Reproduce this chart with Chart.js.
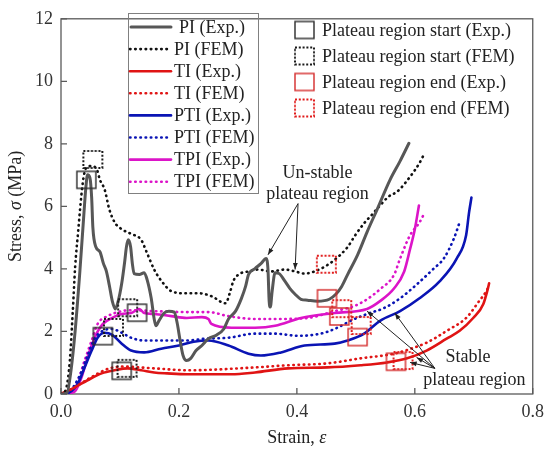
<!DOCTYPE html>
<html>
<head>
<meta charset="utf-8">
<script src="https://cdn.jsdelivr.net/npm/chart.js@4/dist/chart.umd.min.js"></script>
<style>
  html, body { margin: 0; padding: 0; background: #fff; }
  canvas { display: block; }
</style>
</head>
<body>
<canvas id="canvas" width="551" height="455"></canvas>
<script>
// curves as [strain, stress (MPa)]
const piExp = [[0,0],[0.010,0.03],[0.017,0.76],[0.024,2.02],[0.032,3.92],[0.039,5.81],[0.042,6.57],[0.045,7.01],[0.049,6.92],[0.052,6.28],[0.054,5.34],[0.059,4.71],[0.066,4.55],[0.072,4.17],[0.077,3.92],[0.082,3.47],[0.087,2.97],[0.092,2.72],[0.097,2.97],[0.103,3.54],[0.108,4.23],[0.111,4.71],[0.114,4.93],[0.118,4.71],[0.121,4.17],[0.124,3.85],[0.133,3.82],[0.141,3.88],[0.146,3.66],[0.153,3.06],[0.158,2.40],[0.161,2.18],[0.166,2.34],[0.175,2.59],[0.183,2.65],[0.192,2.62],[0.197,2.27],[0.202,1.71],[0.207,1.23],[0.213,1.07],[0.220,1.14],[0.229,1.39],[0.239,1.55],[0.250,1.77],[0.264,1.89],[0.276,2.08],[0.284,2.40],[0.296,2.65],[0.306,3.06],[0.313,3.44],[0.318,3.82],[0.329,4.01],[0.339,4.17],[0.348,4.33],[0.351,3.98],[0.353,2.97],[0.355,2.78],[0.358,3.28],[0.363,3.88],[0.370,3.85],[0.380,3.60],[0.388,3.38],[0.397,3.19],[0.407,3.03],[0.418,3.00],[0.435,2.97],[0.455,3.03],[0.466,3.19],[0.476,3.44],[0.486,3.82],[0.503,4.45],[0.519,5.18],[0.536,5.90],[0.558,6.85],[0.575,7.45],[0.590,8.02]];
const piFem = [[0,0],[0.008,0.13],[0.015,1.07],[0.020,2.65],[0.024,4.07],[0.029,5.18],[0.035,6.44],[0.039,7.01],[0.044,7.26],[0.052,7.29],[0.061,7.17],[0.066,6.85],[0.074,6.54],[0.082,5.90],[0.091,5.49],[0.103,5.27],[0.119,5.12],[0.136,4.93],[0.145,4.55],[0.158,3.98],[0.171,3.60],[0.188,3.28],[0.212,3.22],[0.234,3.22],[0.255,3.13],[0.279,2.90],[0.287,3.28],[0.292,3.60],[0.301,3.82],[0.318,3.92],[0.334,3.98],[0.356,3.92],[0.380,3.98],[0.397,3.92],[0.413,3.85],[0.430,3.92],[0.447,4.07],[0.464,4.29],[0.486,4.70],[0.499,5.08],[0.514,5.46],[0.528,5.75],[0.541,6.03],[0.556,6.32],[0.570,6.47],[0.592,6.95],[0.608,7.39],[0.615,7.64]];
const tiExp = [[0,0],[0.024,0.22],[0.045,0.44],[0.069,0.66],[0.091,0.76],[0.113,0.82],[0.136,0.76],[0.158,0.69],[0.180,0.66],[0.213,0.63],[0.289,0.63],[0.329,0.69],[0.385,0.82],[0.452,0.85],[0.508,0.92],[0.553,1.01],[0.587,1.14],[0.620,1.39],[0.654,1.77],[0.676,2.02],[0.699,2.43],[0.716,2.87],[0.724,3.38],[0.726,3.54]];
const tiFem = [[0,0],[0.015,0.13],[0.032,0.32],[0.049,0.51],[0.066,0.69],[0.082,0.82],[0.108,0.88],[0.133,0.85],[0.158,0.82],[0.217,0.76],[0.329,0.85],[0.385,0.92],[0.452,0.98],[0.508,1.14],[0.565,1.29],[0.598,1.48],[0.620,1.64],[0.654,2.02],[0.687,2.43],[0.709,2.97],[0.721,3.28],[0.726,3.47]];
const ptiExp = [[0,0],[0.012,0.03],[0.029,0.35],[0.040,0.85],[0.052,1.39],[0.062,1.80],[0.074,1.96],[0.087,1.89],[0.103,1.61],[0.119,1.39],[0.141,1.33],[0.170,1.45],[0.200,1.55],[0.225,1.67],[0.250,1.71],[0.284,1.55],[0.318,1.29],[0.339,1.23],[0.373,1.33],[0.413,1.55],[0.464,1.61],[0.486,1.71],[0.514,1.93],[0.541,2.34],[0.575,2.65],[0.608,3.06],[0.642,3.60],[0.671,4.33],[0.687,5.08],[0.692,5.81],[0.696,6.28]];
const ptiFem = [[0,0],[0.015,0.09],[0.032,0.60],[0.045,1.23],[0.057,1.77],[0.071,2.02],[0.086,2.08],[0.103,1.96],[0.119,1.80],[0.141,1.71],[0.175,1.71],[0.213,1.71],[0.245,1.77],[0.284,1.80],[0.329,1.93],[0.363,1.93],[0.402,1.86],[0.440,1.93],[0.464,2.08],[0.491,2.34],[0.519,2.56],[0.548,2.75],[0.575,3.06],[0.603,3.50],[0.632,4.01],[0.649,4.33],[0.666,4.96],[0.676,5.49]];
const tpiExp = [[0,0],[0.015,0.03],[0.024,0.09],[0.035,0.54],[0.045,1.17],[0.057,1.80],[0.071,2.24],[0.086,2.43],[0.103,2.56],[0.119,2.59],[0.133,2.72],[0.141,2.59],[0.158,2.56],[0.187,2.49],[0.213,2.43],[0.239,2.46],[0.250,2.40],[0.255,2.24],[0.289,2.12],[0.329,2.12],[0.363,2.18],[0.407,2.43],[0.464,2.59],[0.519,2.72],[0.541,2.97],[0.565,3.38],[0.582,3.92],[0.592,4.64],[0.600,5.27],[0.607,6.03]];
const tpiFem = [[0,0],[0.015,0.06],[0.029,0.44],[0.040,1.07],[0.052,1.71],[0.062,2.24],[0.079,2.49],[0.103,2.65],[0.124,2.68],[0.158,2.65],[0.217,2.62],[0.250,2.62],[0.284,2.49],[0.329,2.40],[0.373,2.40],[0.418,2.43],[0.464,2.65],[0.497,2.81],[0.519,3.03],[0.541,3.35],[0.565,3.82],[0.575,4.33],[0.592,5.08],[0.608,5.49],[0.617,5.81]];

// plateau markers, order PI, TI, PTI, TPI
const startExp = [[0.043,6.85],[0.103,0.74],[0.071,1.85],[0.129,2.60]];
const startFem = [[0.054,7.50],[0.112,0.82],[0.089,2.13],[0.113,2.76]];
const endExp = [[0.451,3.06],[0.568,1.03],[0.503,1.82],[0.472,2.48]];
const endFem = [[0.450,4.15],[0.580,1.07],[0.509,2.19],[0.476,2.73]];

const xTicks = [0, 0.2, 0.4, 0.6, 0.8];
const yTicks = [0, 2, 4, 6, 8, 10, 12];

const SERIF = "'Liberation Serif', 'Times New Roman', serif";
const DOT = [0.5, 4.7];

function pts(arr) {
    return arr.map(p => ({x: p[0], y: p[1]}));
}

function boxIcon(color, dotted) {
    const c = document.createElement('canvas');
    c.width = 23; c.height = 21;
    const g = c.getContext('2d');
    g.strokeStyle = color;
    g.lineWidth = dotted ? 2 : 1.4;
    if (dotted) g.setLineDash([2, 1.8]);
    g.strokeRect(2, 2, 19, 17);
    return c;
}

const icons = {
    startExp: boxIcon('#2a2a2a', false),
    startFem: boxIcon('#1a1a1a', true),
    endExp: boxIcon('#d42a2a', false),
    endFem: boxIcon('#e01a1a', true)
};

function curve(label, data, color, dotted, width) {
    return {
        label: label,
        data: pts(data),
        showLine: true,
        borderColor: color,
        backgroundColor: color,
        borderWidth: width || 2.6,
        borderDash: dotted ? DOT : [],
        borderCapStyle: 'round',
        pointRadius: 0,
        cubicInterpolationMode: 'monotone',
        fill: false
    };
}

function markers(label, data, icon) {
    return {
        label: label,
        data: pts(data),
        showLine: false,
        pointStyle: icon,
        pointRadius: 10,
        clip: false
    };
}

const curves = [
    curve('PI (Exp.)', piExp, '#575757', false, 3),
    curve('PI (FEM)', piFem, '#111111', true),
    curve('TI (Exp.)', tiExp, '#e01414', false),
    curve('TI (FEM)', tiFem, '#e01414', true),
    curve('PTI (Exp.)', ptiExp, '#0a14b4', false),
    curve('PTI (FEM)', ptiFem, '#0a14b4', true),
    curve('TPI (Exp.)', tpiExp, '#dc14c8', false),
    curve('TPI (FEM)', tpiFem, '#dc14c8', true)
];

const boxes = [
    markers('Plateau region start (Exp.)', startExp, icons.startExp),
    markers('Plateau region start (FEM)', startFem, icons.startFem),
    markers('Plateau region end (Exp.)', endExp, icons.endExp),
    markers('Plateau region end (FEM)', endFem, icons.endFem)
];

// annotation arrows in data units: [from, to]
const unstableArrows = [[[0.402, 6.09], [0.351, 4.45]], [[0.402, 6.09], [0.397, 3.98]]];
const stableArrows = [[[0.634, 0.82], [0.519, 2.65]], [[0.634, 0.82], [0.566, 2.59]], [[0.634, 0.82], [0.592, 1.01]], [[0.634, 0.82], [0.603, 1.17]]];

function arrow(ctx, x0, y0, x1, y1) {
    const a = Math.atan2(y1 - y0, x1 - x0);
    ctx.beginPath();
    ctx.moveTo(x0, y0);
    ctx.lineTo(x1, y1);
    ctx.stroke();
    ctx.beginPath();
    ctx.moveTo(x1, y1);
    ctx.lineTo(x1 - 7 * Math.cos(a - 0.35), y1 - 7 * Math.sin(a - 0.35));
    ctx.lineTo(x1 - 7 * Math.cos(a + 0.35), y1 - 7 * Math.sin(a + 0.35));
    ctx.closePath();
    ctx.fill();
}

// text made of parts, some italic
function mixedText(ctx, parts, cx, cy) {
    let total = 0;
    parts.forEach(p => {
        ctx.font = (p[1] ? 'italic ' : '') + '18px ' + SERIF;
        total += ctx.measureText(p[0]).width;
    });
    let x = cx - total / 2;
    parts.forEach(p => {
        ctx.font = (p[1] ? 'italic ' : '') + '18px ' + SERIF;
        ctx.fillText(p[0], x, cy);
        x += ctx.measureText(p[0]).width;
    });
}

const frame = {
    id: 'frame',
    beforeDatasetsDraw(chart) {
        const {ctx, chartArea: a, scales: {x, y}} = chart;
        ctx.save();
        ctx.strokeStyle = '#5a5a5a';
        ctx.lineWidth = 1.3;
        ctx.strokeRect(a.left, a.top, a.right - a.left, a.bottom - a.top);
        ctx.beginPath();
        xTicks.forEach(v => {
            const px = x.getPixelForValue(v);
            ctx.moveTo(px, a.bottom);
            ctx.lineTo(px, a.bottom - 6);
        });
        yTicks.forEach(v => {
            const py = y.getPixelForValue(v);
            ctx.moveTo(a.left, py);
            ctx.lineTo(a.left + 6, py);
        });
        ctx.stroke();
        ctx.restore();
    },
    afterDraw(chart) {
        const {ctx, chartArea: a, scales: {x, y}} = chart;
        ctx.save();
        ctx.fillStyle = '#222';
        ctx.textBaseline = 'middle';

        // axis titles
        mixedText(ctx, [['Strain, ', false], ['\u03b5', true]], (a.left + a.right) / 2, 438);
        ctx.save();
        ctx.translate(16, (a.top + a.bottom) / 2);
        ctx.rotate(-Math.PI / 2);
        mixedText(ctx, [['Stress, ', false], ['\u03c3', true], [' (MPa)', false]], 0, 0);
        ctx.restore();

        // legend for the curves
        ctx.strokeStyle = '#808080';
        ctx.lineWidth = 1;
        ctx.strokeRect(128.5, 13.5, 130, 180);
        ctx.font = '18px ' + SERIF;
        ctx.textAlign = 'left';
        curves.forEach((ds, i) => {
            const ly = 27 + i * 22.1;
            ctx.save();
            ctx.strokeStyle = ds.borderColor;
            ctx.lineWidth = ds.borderWidth;
            ctx.lineCap = 'round';
            ctx.setLineDash(ds.borderDash);
            ctx.beginPath();
            ctx.moveTo(i === 0 ? 131 : 130, ly);
            ctx.lineTo(171, ly);
            ctx.stroke();
            ctx.restore();
            ctx.fillText(ds.label, i === 0 ? 179 : 174, ly + 1);
        });

        // legend for the plateau markers
        boxes.forEach((ds, i) => {
            const ly = 30 + i * 26;
            const img = ds.pointStyle;
            ctx.drawImage(img, 304.5 - img.width / 2, ly - img.height / 2);
            ctx.fillText(ds.label, 322, ly + 1);
        });

        // annotations
        ctx.strokeStyle = '#222';
        ctx.fillStyle = '#222';
        ctx.lineWidth = 1;
        unstableArrows.concat(stableArrows).forEach(ar => {
            arrow(ctx, x.getPixelForValue(ar[0][0]), y.getPixelForValue(ar[0][1]),
                x.getPixelForValue(ar[1][0]), y.getPixelForValue(ar[1][1]));
        });
        ctx.textAlign = 'center';
        ctx.font = '18px ' + SERIF;
        ctx.fillText('Un-stable', x.getPixelForValue(0.435), y.getPixelForValue(7.07));
        ctx.fillText('plateau region', x.getPixelForValue(0.435), y.getPixelForValue(6.38));
        ctx.fillText('Stable', x.getPixelForValue(0.690), y.getPixelForValue(1.17));
        ctx.fillText('plateau region', x.getPixelForValue(0.701), y.getPixelForValue(0.44));
        ctx.restore();
    }
};

const tickFont = {family: SERIF, size: 18};

const ctx = document.getElementById('canvas').getContext('2d');
const chart = new Chart(ctx, {
    type: 'scatter',
    data: {datasets: boxes.concat(curves)},
    options: {
        responsive: false,
        animation: false,
        devicePixelRatio: 1,
        layout: {padding: {top: 14, right: 14, left: 0, bottom: 0}},
        plugins: {legend: {display: false}, tooltip: {enabled: false}},
        scales: {
            x: {
                type: 'linear', min: 0, max: 0.8,
                grid: {display: false, drawTicks: false},
                border: {display: false},
                ticks: {stepSize: 0.2, padding: 7, color: '#333', font: tickFont,
                    callback: v => v.toFixed(1)},
                afterFit: s => { s.height = 61; }
            },
            y: {
                type: 'linear', min: 0, max: 12,
                grid: {display: false, drawTicks: false},
                border: {display: false},
                ticks: {stepSize: 2, padding: 8, color: '#333', font: tickFont},
                afterFit: s => { s.width = 61; }
            }
        }
    },
    plugins: [frame]
});
</script>
</body>
</html>
